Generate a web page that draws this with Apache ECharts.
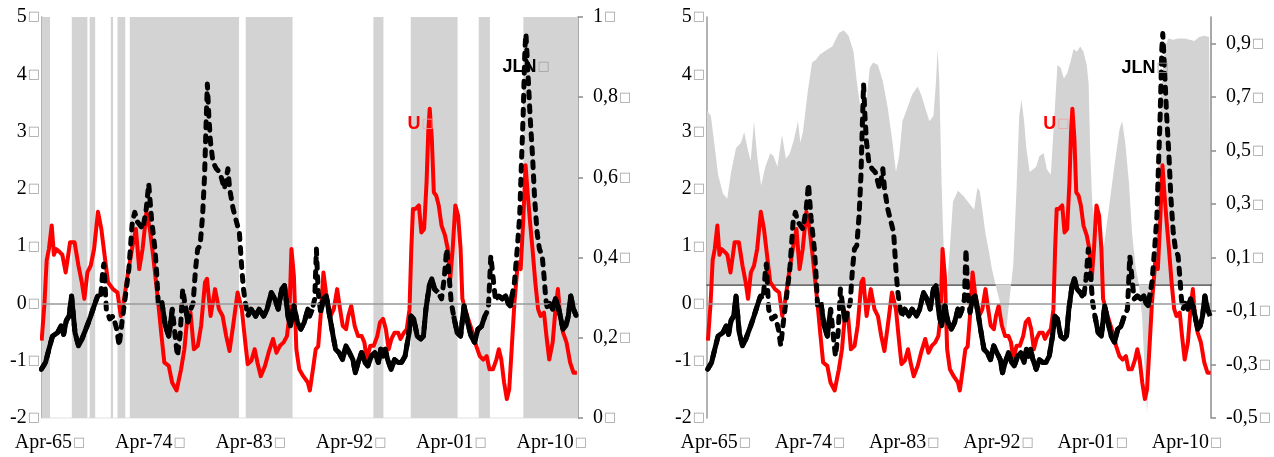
<!DOCTYPE html>
<html>
<head>
<meta charset="utf-8">
<title>U / JLN</title>
<script src="https://cdn.jsdelivr.net/npm/echarts@6/dist/echarts.min.js"></script>
<style>
  html, body { margin: 0; padding: 0; background: #fff; }
  #chart { width: 1274px; height: 457px; }
</style>
</head>
<body>
<div id="chart"></div>
<script>
// x positions are decimal years
const tickYears = [1965.25, 1974.25, 1983.25, 1992.25, 2001.25, 2010.25]
const tickLabels = ['Apr-65', 'Apr-74', 'Apr-83', 'Apr-92', 'Apr-01', 'Apr-10']

// U (red line), left axis
const uPoints = [
  [1964.5,-0.65],[1964.75,0.0],[1964.95,0.75],[1965.15,0.95],[1965.4,1.36],[1965.6,0.85],[1965.8,0.95],[1966.1,0.9],
  [1966.35,0.85],[1966.65,0.54],[1966.85,0.8],[1967.05,1.07],[1967.45,1.07],[1967.8,0.66],[1968.1,0.37],[1968.33,0.08],
  [1968.6,0.54],[1968.9,0.66],[1969.2,0.95],[1969.55,1.6],[1969.85,1.3],[1970.15,0.83],[1970.45,0.37],[1970.9,0.25],
  [1971.3,0.19],[1971.6,-0.22],[1971.85,0.02],[1972.25,0.54],[1972.6,0.95],[1972.95,1.3],[1973.25,0.6],[1973.55,0.95],
  [1973.9,1.6],[1974.2,1.3],[1974.5,0.83],[1974.95,0.02],[1975.25,-0.57],[1975.5,-1.03],[1975.9,-1.09],[1976.2,-1.38],
  [1976.6,-1.52],[1977.0,-1.15],[1977.3,-0.8],[1977.6,-0.16],[1977.85,-0.16],[1978.15,-0.8],[1978.5,-0.74],[1978.8,-0.39],
  [1979.15,0.37],[1979.33,0.43],[1979.65,-0.22],[1980.05,0.25],[1980.4,-0.1],[1980.73,-0.22],[1981.05,-0.57],[1981.35,-0.83],
  [1981.67,-0.39],[1982.07,0.19],[1982.45,-0.1],[1982.76,-0.68],[1982.98,-1.06],[1983.3,-1.0],[1983.6,-0.8],[1983.85,-1.03],
  [1984.15,-1.27],[1984.53,-1.09],[1984.85,-0.86],[1985.25,-0.62],[1985.56,-0.86],[1985.87,-0.74],[1986.2,-0.68],[1986.5,-0.57],
  [1986.71,-0.22],[1986.9,0.95],[1987.12,0.48],[1987.34,-0.8],[1987.6,-1.15],[1987.96,-1.27],[1988.37,-1.38],[1988.55,-1.52],
  [1988.83,-1.15],[1989.08,-0.8],[1989.3,-0.75],[1989.52,-0.22],[1989.77,0.54],[1990.0,0.19],[1990.23,-0.04],[1990.45,-0.2],
  [1990.7,-0.1],[1991.0,0.25],[1991.26,-0.1],[1991.5,-0.39],[1991.8,-0.45],[1992.0,-0.22],[1992.26,-0.04],[1992.57,-0.39],
  [1992.88,-0.57],[1993.2,-0.57],[1993.44,-0.68],[1993.66,-0.98],[1993.97,-0.74],[1994.28,-0.74],[1994.6,-0.57],[1994.84,-0.33],
  [1995.12,-0.27],[1995.37,-0.45],[1995.62,-0.8],[1995.87,-0.62],[1996.15,-0.51],[1996.47,-0.51],[1996.68,-0.62],[1996.99,-0.51],
  [1997.24,-0.45],[1997.49,-0.1],[1997.65,0.95],[1997.8,1.65],[1998.02,1.65],[1998.33,1.71],[1998.55,1.24],[1998.8,1.3],
  [1999.02,2.12],[1999.17,2.99],[1999.3,3.4],[1999.49,2.88],[1999.67,1.94],[1999.89,1.88],[2000.11,1.71],[2000.36,1.36],
  [2000.67,1.19],[2000.92,0.95],[2001.14,0.43],[2001.36,0.95],[2001.6,1.71],[2001.85,1.53],[2002.07,0.95],[2002.23,0.08],
  [2002.48,-0.1],[2002.85,-0.33],[2003.16,-0.51],[2003.47,-0.74],[2003.79,-0.92],[2004.1,-0.98],[2004.41,-0.92],[2004.66,-1.15],
  [2004.97,-1.15],[2005.28,-0.98],[2005.5,-0.8],[2005.72,-0.98],[2005.97,-1.38],[2006.22,-1.67],[2006.43,-1.5],[2006.65,-0.8],
  [2006.9,0.02],[2007.21,0.72],[2007.46,0.6],[2007.68,1.42],[2007.9,2.41],[2008.08,1.94],[2008.3,1.42],[2008.52,0.95],
  [2008.77,0.37],[2009.02,-0.1],[2009.24,-0.22],[2009.55,-0.16],[2009.77,-0.57],[2010.02,-0.98],[2010.33,-0.68],[2010.58,-0.1],
  [2010.8,0.25],[2011.0,-0.22],[2011.26,-0.51],[2011.57,-0.68],[2011.89,-1.03],[2012.2,-1.21],[2012.5,-1.21]
]

// JLN (black line), left axis
const jlnPoints = [
  [1964.47,-1.15],[1964.85,-1.03],[1965.15,-0.8],[1965.47,-0.57],[1965.93,-0.51],[1966.25,-0.39],[1966.47,-0.54],[1966.71,-0.3],
  [1966.96,-0.22],[1967.18,0.13],[1967.49,-0.51],[1967.8,-0.74],[1968.12,-0.62],[1968.58,-0.39],[1968.9,-0.22],[1969.21,-0.04],
  [1969.52,0.13],[1969.77,0.08],[1970.0,0.6],[1970.08,0.69],[1970.3,-0.1],[1970.6,-0.27],[1970.92,-0.22],[1971.23,-0.45],
  [1971.45,-0.74],[1971.7,-0.33],[1972.01,0.13],[1972.32,0.6],[1972.63,1.42],[1972.85,1.59],[1973.1,1.42],[1973.57,1.3],
  [1973.88,1.65],[1974.1,2.09],[1974.35,1.48],[1974.66,0.95],[1974.81,0.54],[1974.97,-0.04],[1975.28,0.02],[1975.59,-0.39],
  [1975.9,-0.57],[1976.22,-0.1],[1976.53,-0.68],[1976.68,-0.92],[1976.93,-0.51],[1977.15,0.25],[1977.37,-0.04],[1977.62,-0.33],
  [1977.87,-0.1],[1978.08,0.0],[1978.3,0.6],[1978.49,0.95],[1978.71,1.01],[1978.93,1.53],[1979.11,2.23],[1979.24,3.1],
  [1979.36,3.83],[1979.49,3.28],[1979.64,2.82],[1979.86,2.47],[1980.17,2.35],[1980.48,2.29],[1980.89,2.0],[1981.2,2.35],
  [1981.36,2.0],[1981.67,1.65],[1981.98,1.42],[1982.23,1.24],[1982.45,0.6],[1982.6,0.25],[1982.76,0.02],[1982.98,-0.22],
  [1983.29,-0.1],[1983.69,-0.22],[1984.0,-0.1],[1984.41,-0.22],[1984.72,-0.1],[1985.09,0.19],[1985.4,0.08],[1985.72,-0.1],
  [1986.03,0.25],[1986.28,0.31],[1986.59,-0.22],[1986.81,-0.39],[1987.12,-0.04],[1987.43,-0.33],[1987.74,-0.45],[1988.05,-0.33],
  [1988.37,-0.1],[1988.52,-0.22],[1988.77,-0.1],[1988.99,0.08],[1989.14,0.95],[1989.3,0.2],[1989.52,-0.16],[1989.77,0.08],
  [1990.02,0.13],[1990.33,-0.22],[1990.64,-0.57],[1990.86,-0.8],[1991.17,-0.86],[1991.48,-0.98],[1991.79,-0.74],[1992.1,-0.86],
  [1992.41,-0.98],[1992.63,-1.21],[1992.88,-1.03],[1993.19,-0.86],[1993.5,-1.03],[1993.75,-1.09],[1994.07,-0.92],[1994.38,-0.86],
  [1994.69,-1.03],[1994.91,-0.8],[1995.13,-0.92],[1995.31,-0.8],[1995.53,-0.98],[1995.84,-1.15],[1996.15,-0.98],[1996.46,-1.03],
  [1996.77,-1.03],[1997.09,-0.92],[1997.4,-0.57],[1997.62,-0.22],[1997.87,-0.27],[1998.18,-0.57],[1998.49,-0.62],[1998.74,-0.57],
  [1998.96,-0.1],[1999.27,0.31],[1999.49,0.43],[1999.74,0.25],[2000.05,0.19],[2000.36,0.08],[2000.6,0.43],[2000.82,0.95],
  [2001.04,0.48],[2001.23,0.02],[2001.45,-0.22],[2001.76,-0.51],[2002.07,-0.57],[2002.38,-0.04],[2002.7,-0.33],[2003.01,-0.57],
  [2003.32,-0.68],[2003.63,-0.45],[2003.94,-0.4],[2004.25,-0.22],[2004.56,-0.1],[2004.78,0.83],[2004.97,0.48],[2005.19,0.08],
  [2005.5,0.13],[2005.81,0.08],[2006.12,0.13],[2006.34,0.0],[2006.53,-0.04],[2006.74,0.19],[2006.9,0.37],[2007.15,0.95],
  [2007.37,1.53],[2007.52,2.41],[2007.68,3.28],[2007.84,4.45],[2007.93,4.71],[2008.08,4.16],[2008.3,3.28],[2008.52,2.58],
  [2008.71,1.83],[2008.93,1.24],[2009.14,0.95],[2009.39,0.83],[2009.55,0.48],[2009.71,0.08],[2009.86,-0.1],[2010.08,0.0],
  [2010.33,-0.1],[2010.58,0.08],[2010.8,-0.04],[2011.01,-0.22],[2011.26,-0.45],[2011.51,-0.39],[2011.73,-0.22],[2011.95,0.13],
  [2012.2,-0.1],[2012.45,-0.22]
]

// grey area of the right panel, right axis
const shadePoints = [
  [1964.41,0.65],[1964.78,0.63],[1965.1,0.53],[1965.47,0.41],[1965.93,0.34],[1966.34,0.32],[1966.71,0.42],[1967.18,0.51],
  [1967.65,0.53],[1967.96,0.57],[1968.27,0.51],[1968.58,0.46],[1968.9,0.61],[1969.2,0.48],[1969.58,0.37],[1969.98,0.44],
  [1970.45,0.49],[1970.76,0.48],[1971.14,0.44],[1971.57,0.56],[1971.95,0.47],[1972.32,0.49],[1972.7,0.54],[1973.1,0.61],
  [1973.32,0.53],[1973.57,0.57],[1974.03,0.72],[1974.44,0.83],[1974.81,0.84],[1975.19,0.86],[1975.75,0.875],[1976.37,0.89],
  [1977.0,0.94],[1977.46,0.95],[1977.93,0.93],[1978.4,0.87],[1978.71,0.76],[1979.17,0.63],[1979.64,0.69],[1979.95,0.81],
  [1980.27,0.83],[1980.73,0.82],[1981.2,0.76],[1981.67,0.66],[1982.13,0.53],[1982.45,0.42],[1982.76,0.48],[1983.07,0.61],
  [1983.54,0.66],[1984.0,0.71],[1984.53,0.74],[1984.85,0.71],[1985.25,0.66],[1985.65,0.61],[1986.03,0.63],[1986.28,0.76],
  [1986.43,0.88],[1986.59,0.76],[1986.81,0.38],[1986.96,0.19],[1987.12,0.03],[1987.34,0.0],[1987.59,0.13],[1987.9,0.31],
  [1988.37,0.35],[1988.9,0.33],[1989.3,0.31],[1989.7,0.29],[1989.92,0.28],[1990.23,0.36],[1990.45,0.35],[1990.7,0.28],
  [1991.0,0.19],[1991.3,0.13],[1991.6,0.06],[1991.95,0.0],[1992.4,-0.07],[1992.7,-0.15],[1992.95,-0.18],[1993.2,-0.09],
  [1993.45,0.0],[1993.65,0.07],[1993.97,0.36],[1994.22,0.63],[1994.44,0.69],[1994.69,0.61],[1994.9,0.51],[1995.22,0.42],
  [1995.53,0.43],[1995.84,0.44],[1996.15,0.48],[1996.56,0.49],[1996.87,0.43],[1997.24,0.41],[1997.55,0.61],[1997.87,0.82],
  [1998.18,0.81],[1998.49,0.77],[1998.8,0.79],[1999.1,0.83],[1999.42,0.88],[1999.73,0.87],[2000.05,0.89],[2000.36,0.87],
  [2000.67,0.82],[2000.85,0.75],[2001.0,0.5],[2001.2,0.3],[2001.5,0.22],[2001.9,0.2],[2002.3,0.14],[2002.6,0.23],
  [2003.3,0.44],[2003.8,0.58],[2004.05,0.61],[2004.35,0.53],[2004.7,0.38],[2005.0,0.19],[2005.35,0.06],[2005.65,0.0],
  [2005.95,-0.12],[2006.2,-0.32],[2006.43,-0.48],[2006.65,-0.31],[2006.9,-0.06],[2007.21,0.13],[2007.52,0.44],[2007.84,0.76],
  [2008.15,0.89],[2008.46,0.92],[2008.93,0.915],[2009.4,0.92],[2010.0,0.92],[2010.5,0.915],[2010.95,0.91],[2011.4,0.925],
  [2011.9,0.93],[2012.35,0.925],[2012.54,0.92]
]

// grey periods of the left panel (start, end)
const regimeBands = [
  [1964.53,1965.25],[1967.2,1968.6],[1968.8,1969.3],[1970.7,1970.9],[1971.3,1972.0],[1972.4,1982.2],
  [1982.8,1987.0],[1994.25,1995.15],[1997.6,2001.8],[2003.7,2004.7],[2007.7,2012.6]
]

// stretches where the thick JLN line shows its dashes
const dashedSpans = [
  [1969.75,1970.35],[1971.2,1971.9],[1972.15,1975.1],[1976.4,1977.3],[1977.8,1982.8],
  [1988.95,1989.4],[2000.3,2001.3],[2004.5,2005.1],[2006.85,2010.0]
]

const GREY = '#d3d3d3'
const BOX = '\u25A1'

// solid copy of JLN with gaps where the dashed one should show
const solidPart = (points) =>
  points.map((p) => (dashedSpans.some((s) => p[0] > s[0] && p[0] < s[1]) ? [p[0], '-'] : p))

const numLabel = (v) => String(Math.round(v * 10) / 10).replace('.', ',') + '{b|' + BOX + '}'
const boxRich = { b: { fontFamily: 'DejaVu Sans', fontSize: 13, color: '#a0a0a0', padding: [0, 0, 0, 1] } }

const xAxes = (gridIndex, min, max, topColor) => [
  {
    type: 'value', gridIndex, min, max, position: 'bottom',
    axisLine: { show: false }, axisTick: { show: false }, splitLine: { show: false },
    axisLabel: {
      customValues: tickYears, margin: 15, fontSize: 20, color: '#000', fontFamily: 'Liberation Serif',
      formatter: (v) => {
        const i = tickYears.findIndex((t) => Math.abs(t - v) < 0.01)
        return i < 0 ? '' : tickLabels[i] + '{b|' + BOX + '}'
      },
      rich: boxRich
    }
  },
  {
    type: 'value', gridIndex, min, max, position: 'top',
    axisLine: { show: true, lineStyle: { color: topColor, width: 1.5 } },
    axisTick: { show: false }, axisLabel: { show: false }, splitLine: { show: false }
  }
]

const leftAxis = (gridIndex) => ({
  type: 'value', gridIndex, min: -2, max: 5, interval: 1, position: 'left',
  axisLine: { show: true, lineStyle: { color: '#9a9a9a', width: 1.5 } },
  axisTick: { show: false }, splitLine: { show: false },
  axisLabel: { margin: 2, fontSize: 20, color: '#000', fontFamily: 'Liberation Serif', formatter: numLabel, rich: boxRich }
})

const rightAxis = (gridIndex, min, max) => ({
  type: 'value', gridIndex, min, max, interval: 0.2, position: 'right',
  axisLine: { show: true, lineStyle: { color: '#8c8c8c', width: 1.5 } },
  axisTick: { show: true, length: 5, lineStyle: { color: '#8c8c8c', width: 1.5 } },
  splitLine: { show: false },
  axisLabel: {
    margin: 15, fontSize: 20, color: '#000', fontFamily: 'Liberation Serif',
    showMaxLabel: min === 0, formatter: numLabel, rich: boxRich
  }
})

const tag = (coord, name, color, boxColor) => ({
  symbol: 'circle', symbolSize: 1, silent: true,
  itemStyle: { color: 'rgba(0,0,0,0)' },
  label: {
    show: true, position: 'right', distance: 0,
    formatter: '{a|' + name + '}{b|' + BOX + '}',
    rich: {
      a: { fontFamily: 'Liberation Sans', fontWeight: 'bold', fontSize: 18, color },
      b: { fontFamily: 'DejaVu Sans', fontSize: 13, color: boxColor, padding: [0, 0, 0, 1] }
    }
  },
  data: [{ coord }]
})

const lineSeries = (xi, yi, uTag, jlnTag) => [
  {
    // zero line
    type: 'line', xAxisIndex: xi, yAxisIndex: yi, data: uPoints, z: 2, silent: true,
    symbol: 'none', lineStyle: { opacity: 0 },
    markLine: {
      silent: true, symbol: 'none', label: { show: false },
      lineStyle: { color: '#9a9a9a', width: 1.5, type: 'solid' },
      data: [{ yAxis: 0 }]
    }
  },
  {
    name: 'U', type: 'line', xAxisIndex: xi, yAxisIndex: yi, data: uPoints, z: 3,
    symbol: 'none', lineStyle: { color: '#ff0000', width: 4, join: 'round' },
    markPoint: tag(uTag, 'U', '#ff0000', '#f3a3a3')
  },
  {
    name: 'JLN', type: 'line', xAxisIndex: xi, yAxisIndex: yi, data: jlnPoints, z: 4,
    symbol: 'none', lineStyle: { color: '#000', width: 5, type: [6, 8], cap: 'round', join: 'round' },
    markPoint: tag(jlnTag, 'JLN', '#000', '#a0a0a0')
  },
  {
    type: 'line', xAxisIndex: xi, yAxisIndex: yi, data: solidPart(jlnPoints), z: 5,
    symbol: 'none', connectNulls: false, lineStyle: { color: '#000', width: 5, join: 'round' }
  }
]

const chart = echarts.init(document.getElementById('chart'))

const option = {
  animation: false,
  textStyle: { fontFamily: 'Liberation Serif' },
  grid: [
    { left: 42, right: 696, top: 17, bottom: 39 },
    { left: 707, right: 52, top: 17, bottom: 39 }
  ],
  xAxis: [
    ...xAxes(0, 1964.53, 2012.6, '#ececec'),
    ...xAxes(1, 1964.41, 2012.54, '#404040')
  ],
  yAxis: [leftAxis(0), rightAxis(0, 0, 1), leftAxis(1), rightAxis(1, -0.5, 1)],
  series: [
    {
      // grey periods, left panel
      type: 'line', xAxisIndex: 0, yAxisIndex: 1, data: [], z: 1, silent: true, symbol: 'none',
      markArea: {
        silent: true,
        itemStyle: { color: GREY, opacity: 1 },
        data: regimeBands.map((b) => [{ xAxis: b[0] }, { xAxis: b[1] }])
      }
    },
    ...lineSeries(0, 0, [1997.27, 3.14], [2005.79, 4.13]),
    {
      // grey area, right panel
      type: 'line', xAxisIndex: 2, yAxisIndex: 3, data: shadePoints, z: 1, silent: true,
      symbol: 'none', lineStyle: { width: 0 },
      areaStyle: { color: GREY, opacity: 1 }
    },
    ...lineSeries(2, 2, [1996.46, 3.13], [2003.94, 4.11])
  ]
}

chart.setOption(option)
window.addEventListener('resize', () => chart.resize())
</script>
</body>
</html>
